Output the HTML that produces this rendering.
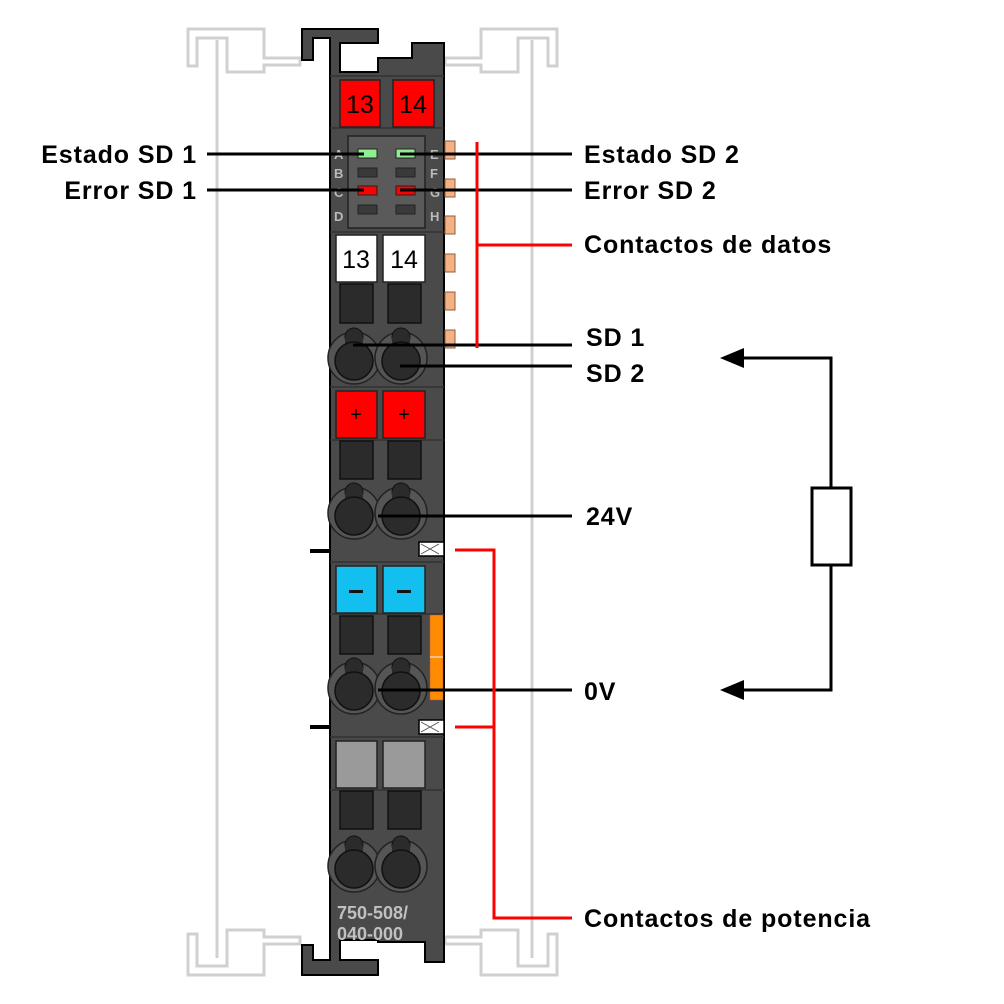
<!DOCTYPE html>
<html><head><meta charset="utf-8"><style>
html,body{margin:0;padding:0;background:#fff;}
svg{display:block;}
.t{font-family:"Liberation Sans",sans-serif;font-weight:bold;font-size:25px;letter-spacing:0.9px;fill:#000;}
.lt{font-family:"Liberation Sans",sans-serif;font-weight:bold;font-size:13px;fill:#bbb;}
.n{font-family:"Liberation Sans Narrow","Liberation Sans",sans-serif;font-size:25px;fill:#000;}
</style></head><body>
<svg width="1004" height="1004" viewBox="0 0 1004 1004" xmlns="http://www.w3.org/2000/svg">
<g fill="none" stroke="#d0d0d0" stroke-width="3">
 <line x1="217" y1="40" x2="217" y2="958"/>
 <line x1="532" y1="40" x2="532" y2="958"/>
 <path d="M188,66 V29 H264 V58 H300 V65 H264 V72 H227 V38 H197 V66 Z"/>
 <path d="M188,934 V975 H264 V944 H300 V937 H264 V930 H227 V966 H197 V934 Z"/>
 <path d="M557,66 V29 H481 V58 H445 V65 H481 V72 H518 V38 H548 V66 Z"/>
 <path d="M557,934 V975 H481 V944 H445 V937 H481 V930 H518 V966 H548 V934 Z"/>
</g>
<path d="M302,29 H378 V43 H340 V72 H378 V58 H412 V43 H444 V962 H425 V942 H378 V940 H340 V960 H378 V975 H302 V945 H313 V960 H330 V38 H313 V60 H302 Z" fill="#4a4a4a" stroke="#000" stroke-width="2"/>
<g stroke="#333" stroke-width="1.5" fill="none">
 <line x1="330" y1="76" x2="444" y2="76"/><line x1="330" y1="128" x2="444" y2="128"/>
 <line x1="330" y1="232" x2="444" y2="232"/>
 <line x1="330" y1="387" x2="444" y2="387"/><line x1="330" y1="440" x2="444" y2="440"/>
 <line x1="330" y1="562" x2="444" y2="562"/><line x1="330" y1="614" x2="444" y2="614"/>
 <line x1="330" y1="737" x2="444" y2="737"/><line x1="330" y1="790" x2="444" y2="790"/>
</g>
<rect x="340" y="80" width="40" height="47" fill="#f00" stroke="#222" stroke-width="1.5"/>
<rect x="393" y="80" width="41" height="47" fill="#f00" stroke="#222" stroke-width="1.5"/>
<text x="360" y="113" class="n" text-anchor="middle">13</text>
<text x="413" y="113" class="n" text-anchor="middle">14</text>
<rect x="348" y="136" width="77" height="92" fill="#5a5a5a" stroke="#222" stroke-width="1.5"/>
<g stroke="#222" stroke-width="1">
 <rect x="358" y="149" width="19" height="9" fill="#90ee90"/><rect x="396" y="149" width="19" height="9" fill="#90ee90"/>
 <rect x="358" y="168" width="19" height="9" fill="#3a3a3a"/><rect x="396" y="168" width="19" height="9" fill="#3a3a3a"/>
 <rect x="358" y="186" width="19" height="9" fill="#f00"/><rect x="396" y="186" width="19" height="9" fill="#f00"/>
 <rect x="358" y="205" width="19" height="9" fill="#3a3a3a"/><rect x="396" y="205" width="19" height="9" fill="#3a3a3a"/>
</g>
<text x="334" y="159" class="lt">A</text><text x="334" y="178" class="lt">B</text><text x="334" y="197" class="lt">C</text><text x="334" y="221" class="lt">D</text>
<text x="430" y="159" class="lt">E</text><text x="430" y="178" class="lt">F</text><text x="430" y="197" class="lt">G</text><text x="430" y="221" class="lt">H</text>
<g fill="#f4b183" stroke="#8a6040" stroke-width="1">
 <rect x="445" y="141" width="10" height="18"/><rect x="445" y="179" width="10" height="18"/>
 <rect x="445" y="216" width="10" height="18"/><rect x="445" y="254" width="10" height="18"/>
 <rect x="445" y="292" width="10" height="18"/><rect x="445" y="330" width="10" height="18"/>
</g>
<rect x="336" y="235" width="41" height="47" fill="#fff" stroke="#222" stroke-width="1.5"/>
<rect x="383" y="235" width="42" height="47" fill="#fff" stroke="#222" stroke-width="1.5"/>
<text x="356" y="268" class="n" text-anchor="middle">13</text>
<text x="404" y="268" class="n" text-anchor="middle">14</text>
<g fill="#2b2b2b" stroke="#111" stroke-width="1.5">
 <rect x="340" y="284" width="33" height="39"/><rect x="388" y="284" width="33" height="39"/>
 <rect x="340" y="441" width="33" height="38"/><rect x="388" y="441" width="33" height="38"/>
 <rect x="340" y="616" width="33" height="38"/><rect x="388" y="616" width="33" height="38"/>
 <rect x="340" y="791" width="33" height="38"/><rect x="388" y="791" width="33" height="38"/>
</g>
<g id="cl">
 <circle cx="354" cy="358" r="26" fill="#555" stroke="#222" stroke-width="1.5"/>
 <circle cx="401" cy="358" r="26" fill="#555" stroke="#222" stroke-width="1.5"/>
 <circle cx="354" cy="337" r="9" fill="#2b2b2b" stroke="#111"/><rect x="345" y="337" width="18" height="12" fill="#2b2b2b"/>
 <circle cx="354" cy="361" r="19" fill="#2b2b2b" stroke="#111" stroke-width="1.5"/>
 <circle cx="401" cy="337" r="9" fill="#2b2b2b" stroke="#111"/><rect x="392" y="337" width="18" height="12" fill="#2b2b2b"/>
 <circle cx="401" cy="361" r="19" fill="#2b2b2b" stroke="#111" stroke-width="1.5"/>
</g>
<use href="#cl" transform="translate(0,155)"/>
<use href="#cl" transform="translate(0,330)"/>
<use href="#cl" transform="translate(0,508)"/>
<rect x="336" y="391" width="41" height="47" fill="#f00" stroke="#222" stroke-width="1.5"/>
<rect x="383" y="391" width="42" height="47" fill="#f00" stroke="#222" stroke-width="1.5"/>
<text x="356" y="421" font-family="Liberation Sans" font-size="20" text-anchor="middle">+</text>
<text x="404" y="421" font-family="Liberation Sans" font-size="20" text-anchor="middle">+</text>
<rect x="336" y="566" width="41" height="47" fill="#12bfef" stroke="#222" stroke-width="1.5"/>
<rect x="383" y="566" width="42" height="47" fill="#12bfef" stroke="#222" stroke-width="1.5"/>
<rect x="349" y="590" width="14" height="3" fill="#111"/><rect x="397" y="590" width="14" height="3" fill="#111"/>
<rect x="430" y="615" width="13" height="85" fill="#ff8c00" stroke="#a55" stroke-width="0.5"/>
<line x1="430" y1="657" x2="443" y2="657" stroke="#ffc080" stroke-width="2"/>
<rect x="336" y="741" width="41" height="47" fill="#9a9a9a" stroke="#222" stroke-width="1.5"/>
<rect x="383" y="741" width="42" height="47" fill="#9a9a9a" stroke="#222" stroke-width="1.5"/>
<g>
 <rect x="419" y="542" width="25" height="14" fill="#fff" stroke="#000" stroke-width="1.5"/>
 <path d="M421,544 L439,554 M421,554 L439,544" stroke="#555" stroke-width="1"/>
 <rect x="419" y="720" width="25" height="14" fill="#fff" stroke="#000" stroke-width="1.5"/>
 <path d="M421,722 L439,732 M421,732 L439,722" stroke="#555" stroke-width="1"/>
 <line x1="310" y1="551" x2="330" y2="551" stroke="#000" stroke-width="4"/>
 <line x1="310" y1="727" x2="330" y2="727" stroke="#000" stroke-width="4"/>
</g>
<text x="337" y="919" font-family="Liberation Sans" font-weight="bold" font-size="18" fill="#c0c0c0">750-508/</text>
<text x="337" y="940" font-family="Liberation Sans" font-weight="bold" font-size="18" fill="#c0c0c0">040-000</text>
<g stroke="#000" stroke-width="3">
 <line x1="207" y1="154" x2="364" y2="154"/>
 <line x1="207" y1="190" x2="364" y2="190"/>
 <line x1="400" y1="154" x2="572" y2="154"/>
 <line x1="400" y1="190" x2="572" y2="190"/>
 <line x1="353" y1="345" x2="572" y2="345"/>
 <line x1="400" y1="366" x2="572" y2="366"/>
 <line x1="378" y1="516" x2="572" y2="516"/>
 <line x1="378" y1="690" x2="572" y2="690"/>
</g>
<g stroke="#f00" stroke-width="3" fill="none">
 <line x1="477" y1="142" x2="477" y2="348"/>
 <line x1="477" y1="245" x2="572" y2="245"/>
 <path d="M455,550 H494 V918 H572"/>
 <line x1="455" y1="727" x2="494" y2="727"/>
</g>
<g stroke="#000" stroke-width="3" fill="none">
 <path d="M740,358 H831 V488"/>
 <rect x="812" y="488" width="39" height="77" fill="#fff"/>
 <path d="M831,565 V690 H740"/>
</g>
<path d="M720,358 L744,348 L744,368 Z" fill="#000"/>
<path d="M720,690 L744,680 L744,700 Z" fill="#000"/>
<text x="197" y="163" class="t" text-anchor="end">Estado SD 1</text>
<text x="197" y="199" class="t" text-anchor="end">Error SD 1</text>
<text x="584" y="163" class="t">Estado SD 2</text>
<text x="584" y="199" class="t">Error SD 2</text>
<text x="584" y="253" class="t">Contactos de datos</text>
<text x="586" y="346" class="t">SD 1</text>
<text x="586" y="382" class="t">SD 2</text>
<text x="586" y="525" class="t">24V</text>
<text x="584" y="700" class="t">0V</text>
<text x="584" y="927" class="t">Contactos de potencia</text>
</svg>
</body></html>
